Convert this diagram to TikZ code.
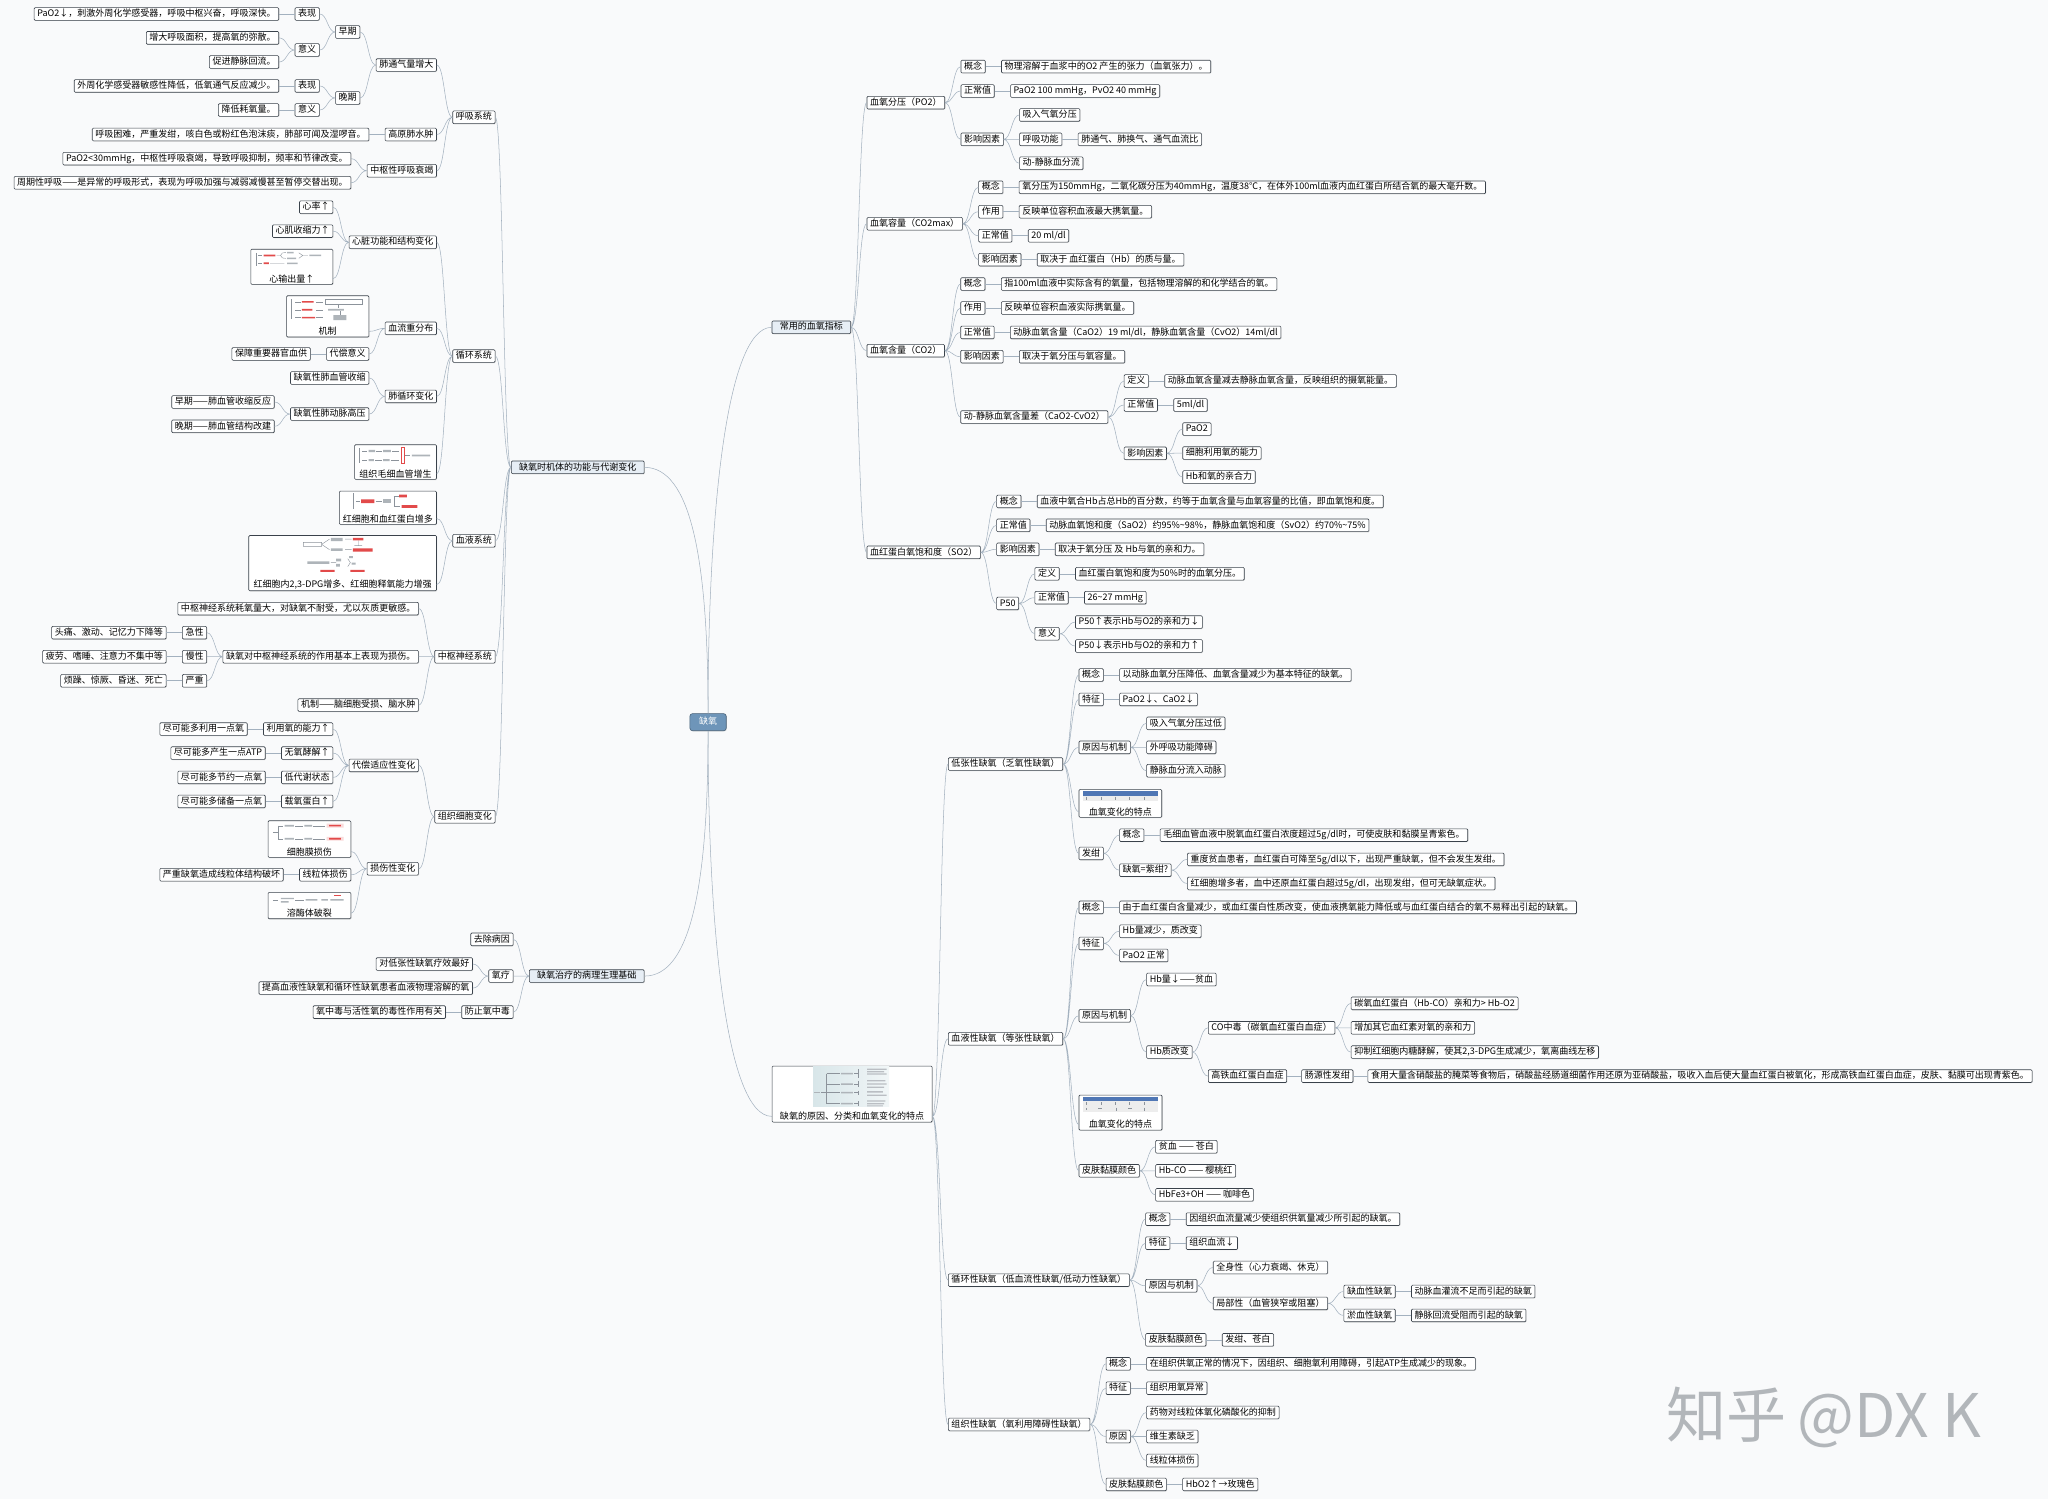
\documentclass[tikz,border=0pt]{standalone}
\usepackage{fontspec}
\setmainfont{Noto Sans CJK SC}
\usetikzlibrary{positioning,calc,shadows}

\definecolor{bgcol}{HTML}{F9FAFB}
\definecolor{edgecol}{HTML}{3A424B}
\definecolor{linecol}{HTML}{A3B1BF}
\definecolor{maincol}{HTML}{E7EEF5}
\definecolor{rootcol}{HTML}{6E95B9}
\definecolor{wmcol}{HTML}{B2B6BA}
\definecolor{thumbred}{HTML}{E24A4A}
\definecolor{thumbgray}{HTML}{8C939B}
\definecolor{thumbblue}{HTML}{5077B5}
\definecolor{thumbpale}{HTML}{D8E6E9}

\tikzset{
  topic/.style={draw=edgecol, line width=0.45pt, fill=white, rounded corners=0.8pt,
    inner xsep=2.4pt, inner ysep=1.5pt, text height=5.4pt, text depth=1.3pt,
    font=\fontsize{6.9}{8}\selectfont,
    drop shadow={opacity=0.3, shadow xshift=0.5pt, shadow yshift=-0.5pt}},
  maintopic/.style={topic, fill=maincol, inner xsep=6pt},
  roottopic/.style={topic, fill=rootcol, draw=rootcol!65!black, text=white,
    inner xsep=7pt, inner ysep=3.2pt, rounded corners=2pt},
  imgtopic/.style={draw=edgecol, line width=0.45pt, fill=white, rounded corners=0.8pt,
    inner sep=0pt, drop shadow={opacity=0.3, shadow xshift=0.5pt, shadow yshift=-0.5pt}},
  caption/.style={font=\fontsize{6.9}{8}\selectfont, inner sep=1.2pt, anchor=south},
  mmline/.style={draw=linecol, line width=0.4pt},
  mmcurve/.style={to path={.. controls ($(\tikztostart)!0.5!(\tikztotarget|-\tikztostart)$)
    and ($(\tikztotarget)!0.5!(\tikztostart|-\tikztotarget)$) .. (\tikztotarget)}},
  thumb/.style={thumbgray, line width=0.3pt},
}

\begin{document}
\begin{tikzpicture}[x=1pt,y=1pt,yscale=-1,xscale=1]
\fill[bgcol] (0,0) rectangle (1568,1148);
\useasboundingbox (0,0) rectangle (1568,1148);

% Text Node
\node[roottopic] (root) at (542.1,552.9) {缺氧};
\node[maintopic, anchor=east] (func) at (493.4,357.8) {缺氧时机体的功能与代谢变化};
\node[maintopic, anchor=east] (treat) at (493.4,747.3) {缺氧治疗的病理生理基础};
\node[maintopic, anchor=west] (idx) at (590.8,250.6) {常用的血氧指标};
\node[imgtopic, anchor=west, minimum width=122.5pt, minimum height=42.9pt] (cause) at (590.9,837.65) {};
\node[caption] (causecap) at (cause.south) {缺氧的原因、分类和血氧变化的特点};

% Text Node: respiration
\node[topic, anchor=east, xshift=-12pt] (resp) at (func.west |- 0,89.8) {呼吸系统};
\node[topic, anchor=east, xshift=-12pt] (vent) at (resp.west |- 0,49.8) {肺通气量增大};
\node[topic, anchor=east, xshift=-12pt] (hape) at (resp.west |- 0,103) {高原肺水肿};
\node[topic, anchor=east, xshift=-12pt] (crf) at (resp.west |- 0,130.7) {中枢性呼吸衰竭};
\node[topic, anchor=east, xshift=-12pt] (early) at (vent.west |- 0,24.5) {早期};
\node[topic, anchor=east, xshift=-12pt] (late) at (vent.west |- 0,75) {晚期};
\node[topic, anchor=east, xshift=-12pt] (early1) at (early.west |- 0,10.7) {表现};
\node[topic, anchor=east, xshift=-12pt] (early2) at (early.west |- 0,38.3) {意义};
\node[topic, left=12pt of early1] (early1t) {PaO2↓，刺激外周化学感受器，呼吸中枢兴奋，呼吸深快。};
\node[topic, anchor=east, xshift=-12pt] (early2a) at (early2.west |- 0,29) {增大呼吸面积，提高氧的弥散。};
\node[topic, anchor=east, xshift=-12pt] (early2b) at (early2.west |- 0,47.5) {促进静脉回流。};
\node[topic, anchor=east, xshift=-12pt] (late1) at (late.west |- 0,65.8) {表现};
\node[topic, anchor=east, xshift=-12pt] (late2) at (late.west |- 0,84.2) {意义};
\node[topic, left=12pt of late1] (late1t) {外周化学感受器敏感性降低，低氧通气反应减少。};
\node[topic, left=12pt of late2] (late2t) {降低耗氧量。};
\node[topic, left=12pt of hape] (hapet) {呼吸困难，严重发绀，咳白色或粉红色泡沫痰，肺部可闻及湿啰音。};
\node[topic, anchor=east, xshift=-12pt] (crf1) at (crf.west |- 0,121.5) {PaO2<30mmHg，中枢性呼吸衰竭，导致呼吸抑制，频率和节律改变。};
\node[topic, anchor=east, xshift=-12pt] (crf2) at (crf.west |- 0,139.9) {周期性呼吸——是异常的呼吸形式，表现为呼吸加强与减弱减慢甚至暂停交替出现。};

% Text Node: circulation
\node[topic, anchor=east, xshift=-12pt] (circ) at (func.west |- 0,272.6) {循环系统};
\node[topic, anchor=east, xshift=-12pt] (heart) at (circ.west |- 0,185.5) {心脏功能和结构变化};
\node[topic, anchor=east, xshift=-12pt] (redis) at (circ.west |- 0,251.4) {血流重分布};
\node[topic, anchor=east, xshift=-12pt] (pulm) at (circ.west |- 0,303.5) {肺循环变化};
\node[imgtopic, anchor=east, xshift=-12pt, minimum width=62.7pt, minimum height=26.5pt] (capil) at (circ.west |- 0,353.75) {};
\node[caption] (capilcap) at (capil.south) {组织毛细血管增生};
\node[topic, anchor=east, xshift=-12pt] (rate) at (heart.west |- 0,158.7) {心率↑};
\node[topic, anchor=east, xshift=-12pt] (contr) at (heart.west |- 0,177) {心肌收缩力↑};
\node[imgtopic, anchor=east, xshift=-12pt, minimum width=62.8pt, minimum height=26.9pt] (cout) at (heart.west |- 0,204.25) {};
\node[caption] (coutcap) at (cout.south) {心输出量↑};
\node[imgtopic, anchor=east, xshift=-12pt, minimum width=63pt, minimum height=31.6pt] (mech) at (redis.west |- 0,242.2) {};
\node[caption] (mechcap) at (mech.south) {机制};
\node[topic, anchor=east, xshift=-12pt] (comp) at (redis.west |- 0,271) {代偿意义};
\node[topic, left=12pt of comp] (compt) {保障重要器官血供};
\node[topic, anchor=east, xshift=-12pt] (hpv) at (pulm.west |- 0,289.4) {缺氧性肺血管收缩};
\node[topic, anchor=east, xshift=-12pt] (hph) at (pulm.west |- 0,317) {缺氧性肺动脉高压};
\node[topic, anchor=east, xshift=-12pt] (hph1) at (hph.west |- 0,307.8) {早期——肺血管收缩反应};
\node[topic, anchor=east, xshift=-12pt] (hph2) at (hph.west |- 0,326.4) {晚期——肺血管结构改建};

% Text Node: blood
\node[topic, anchor=east, xshift=-12pt] (blood) at (func.west |- 0,414) {血液系统};
\node[imgtopic, anchor=east, xshift=-12pt, minimum width=74.4pt, minimum height=25.5pt] (rbc) at (blood.west |- 0,388.75) {};
\node[caption] (rbccap) at (rbc.south) {红细胞和血红蛋白增多};
\node[imgtopic, anchor=east, xshift=-12pt, minimum width=143.7pt, minimum height=42.3pt] (dpg) at (blood.west |- 0,431.15) {};
\node[caption] (dpgcap) at (dpg.south) {红细胞内2,3-DPG增多、红细胞释氧能力增强};

% Text Node: nervous system
\node[topic, anchor=east, xshift=-12pt] (cns) at (func.west |- 0,502.8) {中枢神经系统};
\node[topic, anchor=east, xshift=-12pt] (cns1) at (cns.west |- 0,466) {中枢神经系统耗氧量大，对缺氧不耐受，尤以灰质更敏感。};
\node[topic, anchor=east, xshift=-12pt] (cns2) at (cns.west |- 0,502.8) {缺氧对中枢神经系统的作用基本上表现为损伤。};
\node[topic, anchor=east, xshift=-12pt] (cns3) at (cns.west |- 0,539.8) {机制——脑细胞受损、脑水肿};
\node[topic, anchor=east, xshift=-12pt] (acute) at (cns2.west |- 0,484.4) {急性};
\node[topic, anchor=east, xshift=-12pt] (chron) at (cns2.west |- 0,502.8) {慢性};
\node[topic, anchor=east, xshift=-12pt] (severe) at (cns2.west |- 0,521.2) {严重};
\node[topic, left=12pt of acute] (acutet) {头痛、激动、记忆力下降等};
\node[topic, left=12pt of chron] (chront) {疲劳、嗜睡、注意力不集中等};
\node[topic, left=12pt of severe] (severet) {烦躁、惊厥、昏迷、死亡};

% Text Node: tissue cells
\node[topic, anchor=east, xshift=-12pt] (tissue) at (func.west |- 0,625.3) {组织细胞变化};
\node[topic, anchor=east, xshift=-12pt] (adapt) at (tissue.west |- 0,586) {代偿适应性变化};
\node[topic, anchor=east, xshift=-12pt] (injury) at (tissue.west |- 0,665.1) {损伤性变化};
\node[topic, anchor=east, xshift=-12pt] (use) at (adapt.west |- 0,558.2) {利用氧的能力↑};
\node[topic, anchor=east, xshift=-12pt] (glyc) at (adapt.west |- 0,576.6) {无氧酵解↑};
\node[topic, anchor=east, xshift=-12pt] (lowmet) at (adapt.west |- 0,595.2) {低代谢状态};
\node[topic, anchor=east, xshift=-12pt] (carrier) at (adapt.west |- 0,613.6) {载氧蛋白↑};
\node[topic, left=12pt of use] (uset) {尽可能多利用一点氧};
\node[topic, left=12pt of glyc] (glyct) {尽可能多产生一点ATP};
\node[topic, left=12pt of lowmet] (lowmett) {尽可能多节约一点氧};
\node[topic, left=12pt of carrier] (carriert) {尽可能多储备一点氧};
\node[imgtopic, anchor=east, xshift=-12pt, minimum width=63.4pt, minimum height=28pt] (memb) at (injury.west |- 0,642.4) {};
\node[caption] (membcap) at (memb.south) {细胞膜损伤};
\node[topic, anchor=east, xshift=-12pt] (mito) at (injury.west |- 0,669.7) {线粒体损伤};
\node[topic, left=12pt of mito] (mitot) {严重缺氧造成线粒体结构破坏};
\node[imgtopic, anchor=east, xshift=-12pt, minimum width=63.4pt, minimum height=20.2pt] (lyso) at (injury.west |- 0,693.3) {};
\node[caption] (lysocap) at (lyso.south) {溶酶体破裂};

% Text Node: treatment
\node[topic, anchor=east, xshift=-12pt] (cure) at (treat.west |- 0,719.2) {去除病因};
\node[topic, anchor=east, xshift=-12pt] (oxy) at (treat.west |- 0,747.3) {氧疗};
\node[topic, anchor=east, xshift=-12pt] (tox) at (treat.west |- 0,774.9) {防止氧中毒};
\node[topic, anchor=east, xshift=-12pt] (oxy1) at (oxy.west |- 0,738.1) {对低张性缺氧疗效最好};
\node[topic, anchor=east, xshift=-12pt] (oxy2) at (oxy.west |- 0,756.5) {提高血液性缺氧和循环性缺氧患者血液物理溶解的氧};
\node[topic, left=12pt of tox] (toxt) {氧中毒与活性氧的毒性作用有关};

% Text Node: blood oxygen indices
\node[topic, anchor=west, xshift=12pt] (po2) at (idx.east |- 0,78.6) {血氧分压（PO2）};
\node[topic, anchor=west, xshift=12pt] (cmax) at (idx.east |- 0,171.3) {血氧容量（CO2max）};
\node[topic, anchor=west, xshift=12pt] (cont) at (idx.east |- 0,268.5) {血氧含量（CO2）};
\node[topic, anchor=west, xshift=12pt] (so2) at (idx.east |- 0,422.9) {血红蛋白氧饱和度（SO2）};
\node[topic, anchor=west, xshift=12pt] (po2a) at (po2.east |- 0,51) {概念};
\node[topic, anchor=west, xshift=12pt] (po2b) at (po2.east |- 0,69.7) {正常值};
\node[topic, anchor=west, xshift=12pt] (po2c) at (po2.east |- 0,106.7) {影响因素};
\node[topic, right=12pt of po2a] (po2at) {物理溶解于血浆中的O2 产生的张力（血氧张力）。};
\node[topic, right=12pt of po2b] (po2bt) {PaO2 100 mmHg，PvO2 40 mmHg};
\node[topic, anchor=west, xshift=12pt] (po2c1) at (po2c.east |- 0,88) {吸入气氧分压};
\node[topic, anchor=west, xshift=12pt] (po2c2) at (po2c.east |- 0,106.7) {呼吸功能};
\node[topic, anchor=west, xshift=12pt] (po2c3) at (po2c.east |- 0,125) {动-静脉血分流};
\node[topic, right=12pt of po2c2] (po2c2t) {肺通气、肺换气、通气血流比};
\node[topic, anchor=west, xshift=12pt] (cmaxa) at (cmax.east |- 0,143.4) {概念};
\node[topic, anchor=west, xshift=12pt] (cmaxb) at (cmax.east |- 0,162.1) {作用};
\node[topic, anchor=west, xshift=12pt] (cmaxc) at (cmax.east |- 0,180.5) {正常值};
\node[topic, anchor=west, xshift=12pt] (cmaxd) at (cmax.east |- 0,198.8) {影响因素};
\node[topic, right=12pt of cmaxa] (cmaxat) {氧分压为150mmHg，二氧化碳分压为40mmHg，温度38℃，在体外100ml血液内血红蛋白所结合氧的最大毫升数。};
\node[topic, right=12pt of cmaxb] (cmaxbt) {反映单位容积血液最大携氧量。};
\node[topic, right=12pt of cmaxc] (cmaxct) {20 ml/dl};
\node[topic, right=12pt of cmaxd] (cmaxdt) {取决于 血红蛋白（Hb）的质与量。};
\node[topic, anchor=west, xshift=12pt] (conta) at (cont.east |- 0,217.5) {概念};
\node[topic, anchor=west, xshift=12pt] (contb) at (cont.east |- 0,235.8) {作用};
\node[topic, anchor=west, xshift=12pt] (contc) at (cont.east |- 0,254.5) {正常值};
\node[topic, anchor=west, xshift=12pt] (contd) at (cont.east |- 0,273.1) {影响因素};
\node[topic, anchor=west, xshift=12pt] (avd) at (cont.east |- 0,319.3) {动-静脉血氧含量差（CaO2-CvO2）};
\node[topic, right=12pt of conta] (contat) {指100ml血液中实际含有的氧量，包括物理溶解的和化学结合的氧。};
\node[topic, right=12pt of contb] (contbt) {反映单位容积血液实际携氧量。};
\node[topic, right=12pt of contc] (contct) {动脉血氧含量（CaO2）19 ml/dl，静脉血氧含量（CvO2）14ml/dl};
\node[topic, right=12pt of contd] (contdt) {取决于氧分压与氧容量。};
\node[topic, anchor=west, xshift=12pt] (avda) at (avd.east |- 0,291.7) {定义};
\node[topic, anchor=west, xshift=12pt] (avdb) at (avd.east |- 0,310.1) {正常值};
\node[topic, anchor=west, xshift=12pt] (avdc) at (avd.east |- 0,347.1) {影响因素};
\node[topic, right=12pt of avda] (avdat) {动脉血氧含量减去静脉血氧含量，反映组织的摄氧能量。};
\node[topic, right=12pt of avdb] (avdbt) {5ml/dl};
\node[topic, anchor=west, xshift=12pt] (avdc1) at (avdc.east |- 0,328.5) {PaO2};
\node[topic, anchor=west, xshift=12pt] (avdc2) at (avdc.east |- 0,346.9) {细胞利用氧的能力};
\node[topic, anchor=west, xshift=12pt] (avdc3) at (avdc.east |- 0,365.2) {Hb和氧的亲合力};
\node[topic, anchor=west, xshift=12pt] (so2a) at (so2.east |- 0,383.9) {概念};
\node[topic, anchor=west, xshift=12pt] (so2b) at (so2.east |- 0,402.2) {正常值};
\node[topic, anchor=west, xshift=12pt] (so2c) at (so2.east |- 0,420.6) {影响因素};
\node[topic, anchor=west, xshift=12pt] (p50) at (so2.east |- 0,462) {P50};
\node[topic, right=12pt of so2a] (so2at) {血液中氧合Hb占总Hb的百分数，约等于血氧含量与血氧容量的比值，即血氧饱和度。};
\node[topic, right=12pt of so2b] (so2bt) {动脉血氧饱和度（SaO2）约95\%\textasciitilde98\%，静脉血氧饱和度（SvO2）约70\%\textasciitilde75\%};
\node[topic, right=12pt of so2c] (so2ct) {取决于氧分压 及 Hb与氧的亲和力。};
\node[topic, anchor=west, xshift=12pt] (p50a) at (p50.east |- 0,439.3) {定义};
\node[topic, anchor=west, xshift=12pt] (p50b) at (p50.east |- 0,457.6) {正常值};
\node[topic, anchor=west, xshift=12pt] (p50c) at (p50.east |- 0,485.2) {意义};
\node[topic, right=12pt of p50a] (p50at) {血红蛋白氧饱和度为50\%时的血氧分压。};
\node[topic, right=12pt of p50b] (p50bt) {26\textasciitilde27 mmHg};
\node[topic, anchor=west, xshift=12pt] (p50c1) at (p50c.east |- 0,476.3) {P50↑表示Hb与O2的亲和力↓};
\node[topic, anchor=west, xshift=12pt] (p50c2) at (p50c.east |- 0,494.6) {P50↓表示Hb与O2的亲和力↑};

% Text Node: types of hypoxia
\node[topic, anchor=west, xshift=12pt] (hypo) at (cause.east |- 0,585) {低张性缺氧（乏氧性缺氧）};
\node[topic, anchor=west, xshift=12pt] (hemic) at (cause.east |- 0,795.3) {血液性缺氧（等张性缺氧）};
\node[topic, anchor=west, xshift=12pt] (circh) at (cause.east |- 0,980.1) {循环性缺氧（低血流性缺氧/低动力性缺氧）};
\node[topic, anchor=west, xshift=12pt] (histo) at (cause.east |- 0,1090.6) {组织性缺氧（氧利用障碍性缺氧）};

\node[topic, anchor=west, xshift=12pt] (hypoa) at (hypo.east |- 0,516.8) {概念};
\node[topic, anchor=west, xshift=12pt] (hypob) at (hypo.east |- 0,535.5) {特征};
\node[topic, anchor=west, xshift=12pt] (hypoc) at (hypo.east |- 0,572.2) {原因与机制};
\node[imgtopic, anchor=west, xshift=12pt, minimum width=63.3pt, minimum height=21.4pt] (hypotab) at (hypo.east |- 0,615.1) {};
\node[caption] (hypotabcap) at (hypotab.south) {血氧变化的特点};
\node[topic, anchor=west, xshift=12pt] (hypod) at (hypo.east |- 0,653.4) {发绀};
\node[topic, right=12pt of hypoa] (hypoat) {以动脉血氧分压降低、血氧含量减少为基本特征的缺氧。};
\node[topic, right=12pt of hypob] (hypobt) {PaO2↓、CaO2↓};
\node[topic, anchor=west, xshift=12pt] (hypoc1) at (hypoc.east |- 0,553.8) {吸入气氧分压过低};
\node[topic, anchor=west, xshift=12pt] (hypoc2) at (hypoc.east |- 0,572.2) {外呼吸功能障碍};
\node[topic, anchor=west, xshift=12pt] (hypoc3) at (hypoc.east |- 0,590.1) {静脉血分流入动脉};
\node[topic, anchor=west, xshift=12pt] (cyana) at (hypod.east |- 0,639.4) {概念};
\node[topic, anchor=west, xshift=12pt] (cyanb) at (hypod.east |- 0,666.2) {缺氧=紫绀?};
\node[topic, right=12pt of cyana] (cyanat) {毛细血管血液中脱氧血红蛋白浓度超过5g/dl时，可使皮肤和黏膜呈青紫色。};
\node[topic, anchor=west, xshift=12pt] (cyanb1) at (cyanb.east |- 0,658) {重度贫血患者，血红蛋白可降至5g/dl以下，出现严重缺氧，但不会发生发绀。};
\node[topic, anchor=west, xshift=12pt] (cyanb2) at (cyanb.east |- 0,676.4) {红细胞增多者，血中还原血红蛋白超过5g/dl，出现发绀，但可无缺氧症状。};

\node[topic, anchor=west, xshift=12pt] (hema) at (hemic.east |- 0,694.7) {概念};
\node[topic, anchor=west, xshift=12pt] (hemb) at (hemic.east |- 0,722.3) {特征};
\node[topic, anchor=west, xshift=12pt] (hemc) at (hemic.east |- 0,777.7) {原因与机制};
\node[imgtopic, anchor=west, xshift=12pt, minimum width=63.5pt, minimum height=26.9pt] (hemtab) at (hemic.east |- 0,851.85) {};
\node[caption] (hemtabcap) at (hemtab.south) {血氧变化的特点};
\node[topic, anchor=west, xshift=12pt] (hemd) at (hemic.east |- 0,896.4) {皮肤黏膜颜色};
\node[topic, right=12pt of hema] (hemat) {由于血红蛋白含量减少，或血红蛋白性质改变，使血液携氧能力降低或与血红蛋白结合的氧不易释出引起的缺氧。};
\node[topic, anchor=west, xshift=12pt] (hemb1) at (hemb.east |- 0,713) {Hb量减少，质改变};
\node[topic, anchor=west, xshift=12pt] (hemb2) at (hemb.east |- 0,731.5) {PaO2 正常};
\node[topic, anchor=west, xshift=12pt] (hemc1) at (hemc.east |- 0,749.9) {Hb量↓——贫血};
\node[topic, anchor=west, xshift=12pt] (hemc2) at (hemc.east |- 0,805.5) {Hb质改变};
\node[topic, anchor=west, xshift=12pt] (co) at (hemc2.east |- 0,786.9) {CO中毒（碳氧血红蛋白血症）};
\node[topic, anchor=west, xshift=12pt] (methb) at (hemc2.east |- 0,823.9) {高铁血红蛋白血症};
\node[topic, anchor=west, xshift=12pt] (co1) at (co.east |- 0,768.2) {碳氧血红蛋白（Hb-CO）亲和力> Hb-O2};
\node[topic, anchor=west, xshift=12pt] (co2) at (co.east |- 0,786.9) {增加其它血红素对氧的亲和力};
\node[topic, anchor=west, xshift=12pt] (co3) at (co.east |- 0,805.5) {抑制红细胞内糖酵解，使其2,3-DPG生成减少，氧离曲线左移};
\node[topic, right=11pt of methb] (enter) {肠源性发绀};
\node[topic, right=11pt of enter] (entert) {食用大量含硝酸盐的腌菜等食物后，硝酸盐经肠道细菌作用还原为亚硝酸盐，吸收入血后使大量血红蛋白被氧化，形成高铁血红蛋白血症，皮肤、黏膜可出现青紫色。};
\node[topic, anchor=west, xshift=12pt] (hemd1) at (hemd.east |- 0,878) {贫血 —— 苍白};
\node[topic, anchor=west, xshift=12pt] (hemd2) at (hemd.east |- 0,896.4) {Hb-CO —— 樱桃红};
\node[topic, anchor=west, xshift=12pt] (hemd3) at (hemd.east |- 0,914.8) {HbFe3+OH —— 咖啡色};

\node[topic, anchor=west, xshift=12pt] (circa) at (circh.east |- 0,933.4) {概念};
\node[topic, anchor=west, xshift=12pt] (circb) at (circh.east |- 0,951.8) {特征};
\node[topic, anchor=west, xshift=12pt] (circc) at (circh.east |- 0,984.4) {原因与机制};
\node[topic, anchor=west, xshift=12pt] (circd) at (circh.east |- 0,1025.8) {皮肤黏膜颜色};
\node[topic, right=12pt of circa] (circat) {因组织血流量减少使组织供氧量减少所引起的缺氧。};
\node[topic, right=12pt of circb] (circbt) {组织血流↓};
\node[topic, right=12pt of circd] (circdt) {发绀、苍白};
\node[topic, anchor=west, xshift=12pt] (circc1) at (circc.east |- 0,970.4) {全身性（心力衰竭、休克）};
\node[topic, anchor=west, xshift=12pt] (circc2) at (circc.east |- 0,997.9) {局部性（血管狭窄或阻塞）};
\node[topic, anchor=west, xshift=12pt] (isch) at (circc2.east |- 0,988.8) {缺血性缺氧};
\node[topic, anchor=west, xshift=12pt] (cong) at (circc2.east |- 0,1007.1) {淤血性缺氧};
\node[topic, right=12pt of isch] (ischt) {动脉血灌流不足而引起的缺氧};
\node[topic, right=12pt of cong] (congt) {静脉回流受阻而引起的缺氧};

\node[topic, anchor=west, xshift=12pt] (hista) at (histo.east |- 0,1044.2) {概念};
\node[topic, anchor=west, xshift=12pt] (histb) at (histo.east |- 0,1062.8) {特征};
\node[topic, anchor=west, xshift=12pt] (histc) at (histo.east |- 0,1099.8) {原因};
\node[topic, anchor=west, xshift=12pt] (histd) at (histo.east |- 0,1136.5) {皮肤黏膜颜色};
\node[topic, right=12pt of hista] (histat) {在组织供氧正常的情况下，因组织、细胞氧利用障碍，引起ATP生成减少的现象。};
\node[topic, right=12pt of histb] (histbt) {组织用氧异常};
\node[topic, right=12pt of histd] (histdt) {HbO2↑→玫瑰色};
\node[topic, anchor=west, xshift=12pt] (histc1) at (histc.east |- 0,1081.4) {药物对线粒体氧化磷酸化的抑制};
\node[topic, anchor=west, xshift=12pt] (histc2) at (histc.east |- 0,1099.8) {维生素缺乏};
\node[topic, anchor=west, xshift=12pt] (histc3) at (histc.east |- 0,1118.2) {线粒体损伤};

% Text Node: watermark
\node[text=wmcol, font=\fontsize{46}{50}\selectfont, anchor=west, inner sep=0pt] (mark) at (1276,1085) {知乎\hspace{8pt}@DX K};

%Straight Lines: centre
\draw[mmline] (root.north) .. controls +(0,-150) and +(-35,0) .. (idx.west);
\draw[mmline] (root.south) .. controls +(0,150) and +(-35,0) .. (cause.west |- causecap);
\draw[mmline] (root.north) .. controls +(0,-120) and +(35,0) .. (func.east);
\draw[mmline] (root.south) .. controls +(0,120) and +(35,0) .. (treat.east);

%Straight Lines: left side
\draw[mmline] (func.west) to[mmcurve] (resp.east) (func.west) to[mmcurve] (circ.east) (func.west) to[mmcurve] (blood.east) (func.west) to[mmcurve] (cns.east) (func.west) to[mmcurve] (tissue.east);
\draw[mmline] (resp.west) to[mmcurve] (vent.east) (resp.west) to[mmcurve] (hape.east) (resp.west) to[mmcurve] (crf.east);
\draw[mmline] (vent.west) to[mmcurve] (early.east) (vent.west) to[mmcurve] (late.east);
\draw[mmline] (early.west) to[mmcurve] (early1.east) (early.west) to[mmcurve] (early2.east);
\draw[mmline] (early2.west) to[mmcurve] (early2a.east) (early2.west) to[mmcurve] (early2b.east);
\draw[mmline] (late.west) to[mmcurve] (late1.east) (late.west) to[mmcurve] (late2.east);
\draw[mmline] (crf.west) to[mmcurve] (crf1.east) (crf.west) to[mmcurve] (crf2.east);
\draw[mmline] (early1) -- (early1t) (late1) -- (late1t) (late2) -- (late2t) (hape) -- (hapet);
\draw[mmline] (circ.west) to[mmcurve] (heart.east) (circ.west) to[mmcurve] (redis.east) (circ.west) to[mmcurve] (pulm.east) (circ.west) to[mmcurve] (capil.east |- capilcap);
\draw[mmline] (heart.west) to[mmcurve] (rate.east) (heart.west) to[mmcurve] (contr.east) (heart.west) to[mmcurve] (cout.east |- coutcap);
\draw[mmline] (redis.west) to[mmcurve] (mech.east |- mechcap) (redis.west) to[mmcurve] (comp.east);
\draw[mmline] (pulm.west) to[mmcurve] (hpv.east) (pulm.west) to[mmcurve] (hph.east);
\draw[mmline] (hph.west) to[mmcurve] (hph1.east) (hph.west) to[mmcurve] (hph2.east);
\draw[mmline] (comp) -- (compt);
\draw[mmline] (blood.west) to[mmcurve] (rbc.east |- rbccap) (blood.west) to[mmcurve] (dpg.east |- dpgcap);
\draw[mmline] (cns.west) to[mmcurve] (cns1.east) (cns.west) to[mmcurve] (cns2.east) (cns.west) to[mmcurve] (cns3.east);
\draw[mmline] (cns2.west) to[mmcurve] (acute.east) (cns2.west) to[mmcurve] (chron.east) (cns2.west) to[mmcurve] (severe.east);
\draw[mmline] (acute) -- (acutet) (chron) -- (chront) (severe) -- (severet);
\draw[mmline] (tissue.west) to[mmcurve] (adapt.east) (tissue.west) to[mmcurve] (injury.east);
\draw[mmline] (adapt.west) to[mmcurve] (use.east) (adapt.west) to[mmcurve] (glyc.east) (adapt.west) to[mmcurve] (lowmet.east) (adapt.west) to[mmcurve] (carrier.east);
\draw[mmline] (use) -- (uset) (glyc) -- (glyct) (lowmet) -- (lowmett) (carrier) -- (carriert);
\draw[mmline] (injury.west) to[mmcurve] (memb.east |- membcap) (injury.west) to[mmcurve] (mito.east) (injury.west) to[mmcurve] (lyso.east |- lysocap);
\draw[mmline] (mito) -- (mitot);
\draw[mmline] (treat.west) to[mmcurve] (cure.east) (treat.west) to[mmcurve] (oxy.east) (treat.west) to[mmcurve] (tox.east);
\draw[mmline] (oxy.west) to[mmcurve] (oxy1.east) (oxy.west) to[mmcurve] (oxy2.east);
\draw[mmline] (tox) -- (toxt);

%Straight Lines: right side
\draw[mmline] (idx.east) to[mmcurve] (po2.west) (idx.east) to[mmcurve] (cmax.west) (idx.east) to[mmcurve] (cont.west) (idx.east) to[mmcurve] (so2.west);
\draw[mmline] (po2.east) to[mmcurve] (po2a.west) (po2.east) to[mmcurve] (po2b.west) (po2.east) to[mmcurve] (po2c.west);
\draw[mmline] (po2c.east) to[mmcurve] (po2c1.west) (po2c.east) to[mmcurve] (po2c2.west) (po2c.east) to[mmcurve] (po2c3.west);
\draw[mmline] (po2a) -- (po2at) (po2b) -- (po2bt) (po2c2) -- (po2c2t);
\draw[mmline] (cmax.east) to[mmcurve] (cmaxa.west) (cmax.east) to[mmcurve] (cmaxb.west) (cmax.east) to[mmcurve] (cmaxc.west) (cmax.east) to[mmcurve] (cmaxd.west);
\draw[mmline] (cmaxa) -- (cmaxat) (cmaxb) -- (cmaxbt) (cmaxc) -- (cmaxct) (cmaxd) -- (cmaxdt);
\draw[mmline] (cont.east) to[mmcurve] (conta.west) (cont.east) to[mmcurve] (contb.west) (cont.east) to[mmcurve] (contc.west) (cont.east) to[mmcurve] (contd.west) (cont.east) to[mmcurve] (avd.west);
\draw[mmline] (conta) -- (contat) (contb) -- (contbt) (contc) -- (contct) (contd) -- (contdt);
\draw[mmline] (avd.east) to[mmcurve] (avda.west) (avd.east) to[mmcurve] (avdb.west) (avd.east) to[mmcurve] (avdc.west);
\draw[mmline] (avda) -- (avdat) (avdb) -- (avdbt);
\draw[mmline] (avdc.east) to[mmcurve] (avdc1.west) (avdc.east) to[mmcurve] (avdc2.west) (avdc.east) to[mmcurve] (avdc3.west);
\draw[mmline] (so2.east) to[mmcurve] (so2a.west) (so2.east) to[mmcurve] (so2b.west) (so2.east) to[mmcurve] (so2c.west) (so2.east) to[mmcurve] (p50.west);
\draw[mmline] (so2a) -- (so2at) (so2b) -- (so2bt) (so2c) -- (so2ct);
\draw[mmline] (p50.east) to[mmcurve] (p50a.west) (p50.east) to[mmcurve] (p50b.west) (p50.east) to[mmcurve] (p50c.west);
\draw[mmline] (p50a) -- (p50at) (p50b) -- (p50bt);
\draw[mmline] (p50c.east) to[mmcurve] (p50c1.west) (p50c.east) to[mmcurve] (p50c2.west);
\draw[mmline] (cause.east |- causecap) to[mmcurve] (hypo.west) (cause.east |- causecap) to[mmcurve] (hemic.west) (cause.east |- causecap) to[mmcurve] (circh.west) (cause.east |- causecap) to[mmcurve] (histo.west);
\draw[mmline] (hypo.east) to[mmcurve] (hypoa.west) (hypo.east) to[mmcurve] (hypob.west) (hypo.east) to[mmcurve] (hypoc.west) (hypo.east) to[mmcurve] (hypotab.west |- hypotabcap) (hypo.east) to[mmcurve] (hypod.west);
\draw[mmline] (hypoa) -- (hypoat) (hypob) -- (hypobt);
\draw[mmline] (hypoc.east) to[mmcurve] (hypoc1.west) (hypoc.east) to[mmcurve] (hypoc2.west) (hypoc.east) to[mmcurve] (hypoc3.west);
\draw[mmline] (hypod.east) to[mmcurve] (cyana.west) (hypod.east) to[mmcurve] (cyanb.west);
\draw[mmline] (cyana) -- (cyanat);
\draw[mmline] (cyanb.east) to[mmcurve] (cyanb1.west) (cyanb.east) to[mmcurve] (cyanb2.west);
\draw[mmline] (hemic.east) to[mmcurve] (hema.west) (hemic.east) to[mmcurve] (hemb.west) (hemic.east) to[mmcurve] (hemc.west) (hemic.east) to[mmcurve] (hemtab.west |- hemtabcap) (hemic.east) to[mmcurve] (hemd.west);
\draw[mmline] (hema) -- (hemat);
\draw[mmline] (hemb.east) to[mmcurve] (hemb1.west) (hemb.east) to[mmcurve] (hemb2.west);
\draw[mmline] (hemc.east) to[mmcurve] (hemc1.west) (hemc.east) to[mmcurve] (hemc2.west);
\draw[mmline] (hemc2.east) to[mmcurve] (co.west) (hemc2.east) to[mmcurve] (methb.west);
\draw[mmline] (co.east) to[mmcurve] (co1.west) (co.east) to[mmcurve] (co2.west) (co.east) to[mmcurve] (co3.west);
\draw[mmline] (methb) -- (enter) (enter) -- (entert);
\draw[mmline] (hemd.east) to[mmcurve] (hemd1.west) (hemd.east) to[mmcurve] (hemd2.west) (hemd.east) to[mmcurve] (hemd3.west);
\draw[mmline] (circh.east) to[mmcurve] (circa.west) (circh.east) to[mmcurve] (circb.west) (circh.east) to[mmcurve] (circc.west) (circh.east) to[mmcurve] (circd.west);
\draw[mmline] (circa) -- (circat) (circb) -- (circbt) (circd) -- (circdt);
\draw[mmline] (circc.east) to[mmcurve] (circc1.west) (circc.east) to[mmcurve] (circc2.west);
\draw[mmline] (circc2.east) to[mmcurve] (isch.west) (circc2.east) to[mmcurve] (cong.west);
\draw[mmline] (isch) -- (ischt) (cong) -- (congt);
\draw[mmline] (histo.east) to[mmcurve] (hista.west) (histo.east) to[mmcurve] (histb.west) (histo.east) to[mmcurve] (histc.west) (histo.east) to[mmcurve] (histd.west);
\draw[mmline] (hista) -- (histat) (histb) -- (histbt) (histd) -- (histdt);
\draw[mmline] (histc.east) to[mmcurve] (histc1.west) (histc.east) to[mmcurve] (histc2.west) (histc.east) to[mmcurve] (histc3.west);

%Shape: thumbnails
\begin{scope}[shift={(cout.north west)}]
  \draw[thumb] (4,3) -- (4,13) (6,5) -- (9,5) (6,11) -- (9,11);
  \fill[thumbred] (10,4.3) rectangle (19,5.7) (10,10.3) rectangle (14,11.7);
  \draw[thumb] (20,5) -- (23,5) (15,11) -- (26,11) (23,5) .. controls (24,3) .. (27,2.8) (23,5) .. controls (24,7) .. (27,7.2);
  \fill[thumbgray!70] (28,2.2) rectangle (33,3.4) (28,6.6) rectangle (35,7.8) (28,10.4) rectangle (36,11.6) (45,4.4) rectangle (54,5.6);
  \draw[thumb] (37,3) -- (40,5) -- (37,7.2) (40,5) -- (44,5);
\end{scope}
\begin{scope}[shift={(mech.north west)}]
  \draw[thumb] (4,3) -- (4,18) (7,5) -- (11,5) (7,11) -- (11,11) (7,17) -- (11,17);
  \fill[thumbred] (12,4.4) rectangle (21,5.6) (12,10.4) rectangle (20,11.6) (12,16.4) rectangle (22,17.6);
  \draw[thumb] (23,5) -- (28,5) (23,11) -- (28,11) (23,17) -- (28,17) (30,3) rectangle (58,7) (40,7) -- (40,10) (41,12) -- (41,15);
  \fill[thumbgray!70] (32,10.4) rectangle (44,11.6) (36,15) rectangle (46,19);
\end{scope}
\begin{scope}[shift={(capil.north west)}]
  \draw[thumb] (4,3) -- (4,14) (6,5) -- (10,5) (6,12) -- (10,12);
  \fill[thumbgray!70] (11,4.2) rectangle (16,5.8) (11,11.2) rectangle (15,12.8) (22,4.2) rectangle (28,5.8) (22,11.2) rectangle (27,12.8) (44,7.8) rectangle (58,9.2);
  \draw[thumb] (17,5) -- (21,5) (16,12) -- (21,12) (29,5) -- (34,5) (28,12) -- (34,12) (39,8.5) -- (43,8.5);
  \draw[thumbred, line width=0.5pt] (36,2.5) rectangle (38,14.5);
\end{scope}
\begin{scope}[shift={(rbc.north west)}]
  \draw[thumb] (11,2) -- (11,14) (13,8) -- (16,8) (28,8) -- (33,8) (42,4) -- (42,12) (42,4) -- (46,4) (42,12) -- (47,12);
  \fill[thumbred] (17,6.5) rectangle (27,9.5) (46,3) rectangle (52,5) (48,11) rectangle (60,13);
  \fill[thumbgray!70] (34,6.5) rectangle (40,9.5);
\end{scope}
\begin{scope}[shift={(dpg.north west)}]
  \draw[thumb] (42,5.5) rectangle (56,8.5) (56,7) -- (62,3) (56,7) -- (62,11) (74,3) -- (79,3) (74,11) -- (79,11) (84,4) -- (84,8) (81,8) -- (87,8);
  \fill[thumbgray!70] (63,2) rectangle (72,4.5) (63,10) rectangle (72,12);
  \fill[thumbred] (80,2) rectangle (88,4) (80,10) rectangle (95,12.5);
  \fill[thumbgray!70] (45,20) rectangle (62,22) (67,18) rectangle (71,20) (67,22) rectangle (70,24) (77,16) rectangle (80,17.5) (79,21) rectangle (82,22.5);
  \draw[thumb] (63,21) -- (67,21) (76,18) -- (78,21) -- (76,24);
  \fill[thumbred] (55,26.5) rectangle (66,28) (78,26.5) rectangle (89,28);
\end{scope}
\begin{scope}[shift={(memb.north west)}]
  \draw[thumb] (4,9) -- (8,9) (8,4) -- (8,14) (8,4) -- (12,4) (8,14) -- (12,14) (21,4) -- (27,4) (21,14) -- (27,14) (35,4) -- (44,4) (35,14) -- (44,14);
  \fill[thumbgray!70] (13,3.3) rectangle (20,4.7) (13,13.3) rectangle (20,14.7) (28,3.3) rectangle (34,4.7) (28,13.3) rectangle (34,14.7);
  \fill[thumbred!20] (45,2.5) rectangle (58,5.5) (45,12.5) rectangle (58,15.5);
  \fill[thumbred] (47,3.4) rectangle (56,4.6) (47,13.4) rectangle (56,14.6);
\end{scope}
\begin{scope}[shift={(lyso.north west)}]
  \draw[thumb] (4,6) -- (8,6) (21,6) -- (28,6);
  \fill[thumbgray!70] (10,4.5) rectangle (20,5.5) (10,7) rectangle (16,8) (29,5.4) rectangle (38,6.6) (41,5.4) rectangle (46,6.6) (48,5.4) rectangle (58,6.6);
  \fill[thumbred] (51,2) rectangle (56,3.2);
\end{scope}
\begin{scope}[shift={(hypotab.north west)}]
  \fill[thumbblue] (3,1.5) rectangle (60.3,5);
  \fill[gray!14] (3,5) rectangle (60.3,9);
  \draw[thumb] (6,5.8) -- (6,8.2) (17,5.8) -- (17,8.2) (28,5.8) -- (28,8.2) (39,5.8) -- (39,8.2) (50,5.8) -- (50,8.2);
\end{scope}
\begin{scope}[shift={(hemtab.north west)}]
  \fill[thumbblue] (3,1.5) rectangle (60.5,5);
  \fill[gray!14] (3,5) rectangle (60.5,13);
  \draw[thumb] (6,5.8) -- (6,8.2) (17,5.8) -- (17,8.2) (28,5.8) -- (28,8.2) (39,5.8) -- (39,8.2) (50,5.8) -- (50,8.2);
  \draw[thumb] (6,10) -- (6,12) (15,10) -- (18,10) (29,9.8) -- (29,12.2) (38,10) -- (41,10) (50,9.8) -- (50,12.2);
\end{scope}
\begin{scope}[shift={(cause.north west)}]
  \shade[left color=thumbpale, right color=thumbpale!35] (31.7,0.8) rectangle (89.8,31.5);
  \fill[thumbgray!70] (32.5,20) rectangle (37,21.2);
  \draw[thumb] (38,20.6) -- (42,20.6) (42,6) -- (42,29) (42,6) -- (52,6) (42,14) -- (52,14) (42,29) -- (52,29) (42,20.6) -- (52,20.6);
  \fill[thumbgray!70] (53,5.4) rectangle (62,6.6) (53,13.4) rectangle (62,14.6) (53,20) rectangle (62,21.2) (53,28.4) rectangle (62,29.6);
  \draw[thumb] (63,6) -- (66,6) (66,2.7) -- (66,9) (63,14) -- (66,14) (66,11.5) -- (66,16.5) (63,20.6) -- (66,20.6) (66,19) -- (66,22.5) (63,29) -- (66,29) (66,27) -- (66,31);
  \fill[thumbgray!60] (73,2.2) rectangle (88,3.2) (73,4) rectangle (86,5) (73,5.8) rectangle (88,6.8) (73,11) rectangle (87,12) (73,13.5) rectangle (88,14.5) (73,16) rectangle (86,17) (73,19.5) rectangle (85,20.5) (73,22) rectangle (88,23) (73,26.5) rectangle (87,27.5) (73,28.5) rectangle (86,29.5) (73,30.3) rectangle (85,31.1);
\end{scope}

\end{tikzpicture}
\end{document}
